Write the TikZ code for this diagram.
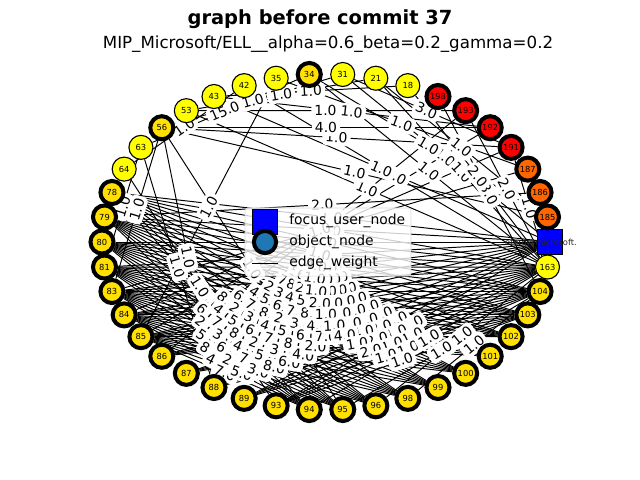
\documentclass[tikz,border=0pt]{standalone}
\usepackage{fontspec}
\setmainfont{DejaVu Sans}
\usetikzlibrary{positioning}

\definecolor{nodeyellow}{RGB}{255,255,0}
\definecolor{nodegold}{RGB}{255,224,0}
\definecolor{nodeorange}{RGB}{255,102,0}
\definecolor{nodered}{RGB}{255,0,0}
\definecolor{legendblue}{RGB}{31,119,180}

\pgfdeclarelayer{edgelayer}
\pgfdeclarelayer{labellayer}
\pgfsetlayers{edgelayer,labellayer,main}

% weighted edges: from/to/weight
\newcommand{\edgelist}{56/31/1.0, 53/21/1.0, 43/18/1.0, 63/88/1.0, 64/93/1.0,
  85/192/1.0, 86/193/1.0, 84/191/1.0, 83/187/1.0, 53/193/1.0, 43/192/1.0,
  56/191/1.0, 31/fu/1.0, 21/163/1.0, 94/163/1.0, 96/163/1.0, 98/104/1.0,
  95/104/1.0, 56/88/1.0, 56/95/1.0, 85/35/1.0, 63/81/1.0, 56/83/1.0,
  191/163/1.0, 193/163/2.0, 198/104/3.0, 34/185/1.0, 34/163/1.0, 53/163/1.0,
  56/185/1.0, 79/186/2.0, 35/187/1.0, 31/191/3.0, 21/185/1.0, 18/163/2.0,
  42/163/1.0, 43/fu/1.0, 56/192/4.0, 64/42/1.0, 63/34/15.0}
\newcommand{\fanleft}{78,79,80,81,83,84,85}
\newcommand{\fanbottom}{94,95,96,98,99,100,101,102}
\newcommand{\bandright}{fu,163,104,103}
\newcommand{\bandleft}{78,79,80,81,83,84,85,86,87,88,89,93}

\begin{document}
\begin{tikzpicture}[
  x=0.72pt, y=-0.72pt,
  every node/.style={font=\fontsize{6}{7}\selectfont, inner sep=0pt},
  obj/.style={circle, draw, line width=0.8pt, fill=nodeyellow, minimum size=17.3pt},
  objb/.style={obj, line width=2.9pt, fill=nodegold, minimum size=16.6pt},
  hot/.style={objb, fill=nodered},
  warm/.style={objb, fill=nodeorange},
  focus/.style={rectangle, draw, line width=0.7pt, fill=blue, minimum size=17.5pt},
  edge/.style={line width=0.7pt},
  wlabel/.style={font=\fontsize{10}{12}\selectfont, fill=white, rounded corners=3pt, inner sep=2.2pt, sloped},
  legendbox/.style={draw=black!15, fill=white, fill opacity=0.8, rounded corners=2pt,
    minimum width=119.5pt, minimum height=49pt},
]
\useasboundingbox (0,0) rectangle (640,480);

% nodes on the ellipse
\begin{scope}[shift={(326,242)}]
\node[focus] (nfu) at (0:224 and 168) {};
\foreach \lab/\sty [count=\i] in {185/warm, 186/warm, 187/warm, 191/hot, 192/hot,
    193/hot, 198/hot, 18/obj, 21/obj, 31/obj, 34/objb, 35/obj, 42/obj, 43/obj,
    53/obj, 56/objb, 63/obj, 64/obj, 78/objb, 79/objb, 80/objb, 81/objb, 83/objb,
    84/objb, 85/objb, 86/objb, 87/objb, 88/objb, 89/objb, 93/objb, 94/objb,
    95/objb, 96/objb, 98/objb, 99/objb, 100/objb, 101/objb, 102/objb, 103/objb,
    104/objb, 163/obj}
  \node[\sty] (n\lab) at ({-\i*360/42}:224 and 168) {\lab};
\end{scope}
\node[text=black!85] (fulab) at (541,243) {oferg@microsoft.};

% edges
\begin{pgfonlayer}{edgelayer}
\foreach \a in \fanleft
  \foreach \b in \fanbottom
    \draw[edge] (n\a) -- (n\b);
\foreach \a in \bandright
  \foreach \b in \bandleft
    \draw[edge] (n\a) -- (n\b);
\foreach \a/\b/\w in \edgelist
  \draw[edge] (n\a) -- (n\b);
\end{pgfonlayer}

% edge weights
\begin{pgfonlayer}{labellayer}
\foreach \a [count=\p] in \fanleft
  \foreach \b [count=\q] in \fanbottom {
    \pgfmathtruncatemacro\wt{mod(\p*3+\q*5,7)+2}
    \path (n\a) -- (n\b) node[wlabel, midway] {\wt.0};
  }
\foreach \a [count=\p] in \bandright
  \foreach \b [count=\q] in \bandleft {
    \pgfmathtruncatemacro\wt{mod(\p*\q,5)==0 ? 2 : (mod(\p+\q,6)==0 ? 4 : 1)}
    \path (n\a) -- (n\b) node[wlabel, midway] {\wt.0};
  }
\foreach \a/\b/\w in \edgelist
  \path (n\a) -- (n\b) node[wlabel, midway] {\w};
\end{pgfonlayer}

% legend
\node[legendbox] (legend) at (328,242) {};
\node[focus, minimum size=18pt] (keyfocus) at (265,222) {};
\node[circle, draw, line width=2.9pt, fill=legendblue, minimum size=16pt] (keyobj) at (265,242) {};
\coordinate (keyl) at (252,263);
\coordinate (keyr) at (278,263);
\draw[edge] (keyl) -- (keyr);
\node[anchor=west, font=\fontsize{10}{12}\selectfont] (txtfocus) at (289,221) {focus\_user\_node};
\node[anchor=west, font=\fontsize{10}{12}\selectfont] (txtobj) at (289,242) {object\_node};
\node[anchor=west, font=\fontsize{10}{12}\selectfont] (txtedge) at (289,263) {edge\_weight};

% titles
\node[font=\bfseries\fontsize{14}{17}\selectfont] (title) at (320,19) {graph before commit 37};
\node[font=\fontsize{12}{14}\selectfont] (subtitle) at (328,44) {MIP\_Microsoft/ELL\_\_alpha=0.6\_beta=0.2\_gamma=0.2};
\end{tikzpicture}
\end{document}
